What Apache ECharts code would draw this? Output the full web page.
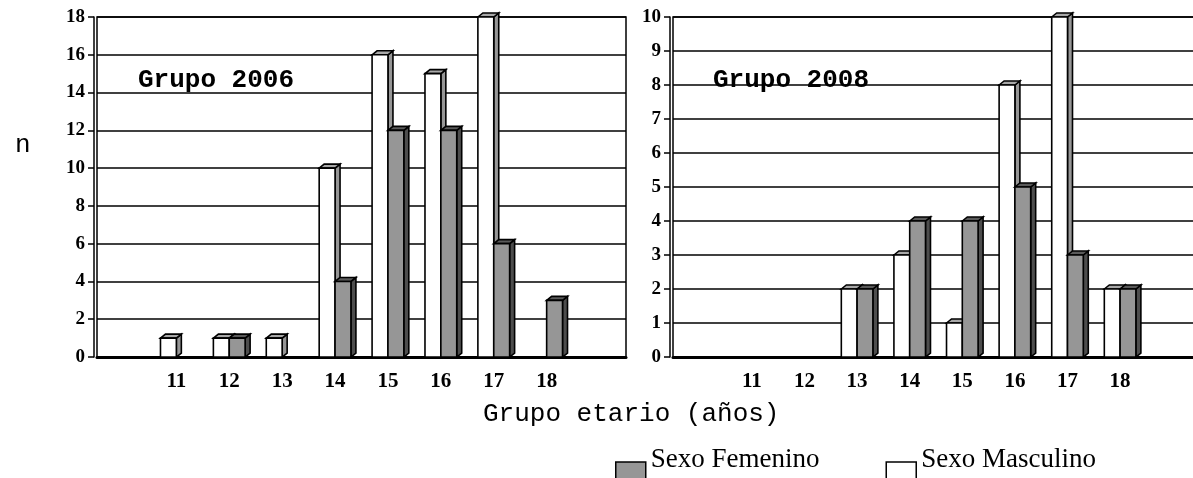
<!DOCTYPE html>
<html>
<head>
<meta charset="utf-8">
<title>Grupo etario</title>
<script src="https://cdn.jsdelivr.net/npm/echarts@6/dist/echarts.min.js"></script>
<style>
html, body { margin: 0; padding: 0; background: #fff; }
#chart { width: 1193px; height: 478px; }
</style>
</head>
<body>
<div id="chart"></div>
<script>
// categorias (primera y ultima vacias, como en el original)
var categorias = ['', '11', '12', '13', '14', '15', '16', '17', '18', ''];

// Grupo 2006
var masculino2006 = [0, 1, 1, 1, 10, 16, 15, 18, 0, 0];
var femenino2006 = [0, 0, 1, 0, 4, 12, 12, 6, 3, 0];

// Grupo 2008
var masculino2008 = [0, 0, 0, 2, 3, 1, 8, 10, 2, 0];
var femenino2008 = [0, 0, 0, 2, 4, 4, 5, 3, 2, 0];

var ticks2006 = { min: 0, max: 18, interval: 2 };
var ticks2008 = { min: 0, max: 10, interval: 1 };

var SERIF = '"Liberation Serif", "Times New Roman", serif';
var MONO = '"Liberation Mono", "Courier New", monospace';

// barra con efecto 3D (cara frontal, superior y lateral)
function bar3d(lado, frente, arriba, costado) {
	return function (params, api) {
		var v = api.value(1);
		if (!v) return null;
		var base = api.coord([api.value(0), 0]);
		var top = api.coord([api.value(0), v]);
		var bw = api.size([1, 0])[0] * 0.3;
		var x0 = base[0] + (lado === 0 ? -bw : 0);
		var d = 5, dy = 4;
		var st = { stroke: '#000', lineWidth: 1.6 };
		return {
			type: 'group',
			children: [
				{ type: 'polygon', shape: { points: [[x0 + bw, top[1]], [x0 + bw + d, top[1] - dy], [x0 + bw + d, base[1] - dy], [x0 + bw, base[1]]] },
				  style: Object.assign({ fill: costado }, st) },
				{ type: 'polygon', shape: { points: [[x0, top[1]], [x0 + d, top[1] - dy], [x0 + bw + d, top[1] - dy], [x0 + bw, top[1]]] },
				  style: Object.assign({ fill: arriba }, st) },
				{ type: 'rect', shape: { x: x0, y: top[1], width: bw, height: base[1] - top[1] },
				  style: Object.assign({ fill: frente }, st) }
			]
		};
	};
}

function serie(nombre, datos, idx, lado) {
	var gris = lado === 1;
	return {
		name: nombre,
		type: 'custom',
		xAxisIndex: idx,
		yAxisIndex: idx,
		itemStyle: { color: gris ? '#969696' : '#fff', borderColor: '#000' },
		renderItem: gris ? bar3d(1, '#969696', '#5a5a5a', '#4d4d4d') : bar3d(0, '#fff', '#a8a8a8', '#969696'),
		data: datos.map(function (v, i) { return [i, v]; })
	};
}

function ejeX(idx) {
	return {
		type: 'category',
		gridIndex: idx,
		data: categorias,
		axisLine: { lineStyle: { color: '#000', width: 3 } },
		axisTick: { length: 6, lineStyle: { color: '#000', width: 1.5 } },
		axisLabel: { color: '#000', fontFamily: SERIF, fontWeight: 'bold', fontSize: 21, margin: 14 }
	};
}

function ejeY(idx, t) {
	return {
		type: 'value',
		gridIndex: idx,
		min: t.min, max: t.max, interval: t.interval,
		offset: 3,
		axisLine: { show: true, lineStyle: { color: '#000', width: 1.5 } },
		axisTick: { show: true, length: 6, lineStyle: { color: '#000', width: 1.5 } },
		axisLabel: { color: '#000', fontFamily: SERIF, fontWeight: 'bold', fontSize: 19, margin: 9 },
		splitLine: { lineStyle: { color: '#000', width: 1.5 } }
	};
}

var myChart = echarts.init(document.getElementById('chart'));
var option = {
	backgroundColor: '#fff',
	animation: false,
	title: [
		{ text: 'Grupo 2006', left: 133, top: 62, textStyle: { fontFamily: MONO, fontWeight: 'bold', fontSize: 26, color: '#000' } },
		{ text: 'Grupo 2008', left: 708, top: 62, textStyle: { fontFamily: MONO, fontWeight: 'bold', fontSize: 26, color: '#000' } },
		{ text: 'n', left: 10, top: 127, textStyle: { fontFamily: MONO, fontWeight: 'normal', fontSize: 26, color: '#000' } },
		{ text: 'Grupo etario (años)', left: 478, top: 396, textStyle: { fontFamily: MONO, fontWeight: 'normal', fontSize: 26, color: '#000' } }
	],
	legend: {
		left: 610, top: 438,
		itemWidth: 30, itemHeight: 30, itemGap: 66,
		icon: 'rect',
		data: [
			{ name: 'Sexo Femenino', itemStyle: { color: '#969696', borderColor: '#000', borderWidth: 1.5 } },
			{ name: 'Sexo Masculino', itemStyle: { color: '#fff', borderColor: '#000', borderWidth: 1.5 } }
		],
		// el texto va mas arriba que el cuadro
		formatter: function (name) { return name + '\n '; },
		textStyle: { fontFamily: SERIF, fontSize: 27, lineHeight: 34, color: '#000' }
	},
	grid: [
		{ left: 97, top: 17, width: 529, height: 340, show: true, borderColor: '#000', borderWidth: 1.5, outerBoundsMode: 'none' },
		{ left: 673, top: 17, width: 526, height: 340, show: true, borderColor: '#000', borderWidth: 1.5, outerBoundsMode: 'none' }
	],
	xAxis: [ejeX(0), ejeX(1)],
	yAxis: [ejeY(0, ticks2006), ejeY(1, ticks2008)],
	series: [
		serie('Sexo Masculino', masculino2006, 0, 0),
		serie('Sexo Femenino', femenino2006, 0, 1),
		serie('Sexo Masculino', masculino2008, 1, 0),
		serie('Sexo Femenino', femenino2008, 1, 1)
	]
};
myChart.setOption(option);
</script>
</body>
</html>
